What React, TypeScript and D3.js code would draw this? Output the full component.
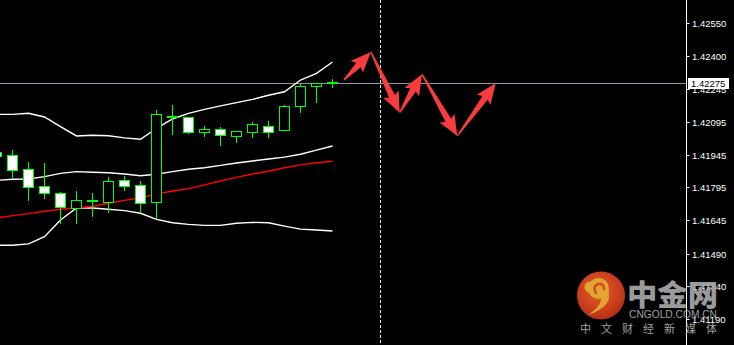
import React from "react";
import * as d3 from "d3";

const W = 734;
const H = 345;

// bar indices: -1 .. 20
const barIndex = d3.range(-1, 21);
const opens = [1.41955, 1.41943, 1.41879, 1.41801, 1.41769, 1.41701, 1.41733, 1.41729, 1.41827, 1.41806, 1.41726, 1.42121, 1.42117, 1.42051, 1.42063, 1.42032, 1.42051, 1.42075, 1.4206, 1.42167, 1.42259, 1.42277];
const highs = [1.41955, 1.41971, 1.41916, 1.41911, 1.41778, 1.41783, 1.41773, 1.41847, 1.41852, 1.41829, 1.42155, 1.42178, 1.4212, 1.4208, 1.42075, 1.42057, 1.421, 1.42104, 1.42178, 1.42276, 1.42279, 1.42297];
const lows = [1.41941, 1.41842, 1.41737, 1.41746, 1.41632, 1.41632, 1.41665, 1.41683, 1.41783, 1.41686, 1.41653, 1.42042, 1.42043, 1.42032, 1.41989, 1.42005, 1.42024, 1.42028, 1.4206, 1.42142, 1.42186, 1.42257];
const closes = [1.41941, 1.41875, 1.41798, 1.41767, 1.41706, 1.41737, 1.41735, 1.41824, 1.41802, 1.41724, 1.4213, 1.42119, 1.42051, 1.42063, 1.42034, 1.42054, 1.42085, 1.42051, 1.42167, 1.42261, 1.42273, 1.42275];

const bandUpper = [1.4213, 1.4213, 1.42135, 1.42118, 1.42074, 1.42031, 1.42034, 1.42032, 1.42022, 1.42016, 1.42066, 1.42109, 1.42135, 1.42153, 1.42169, 1.42184, 1.42199, 1.42218, 1.42234, 1.42288, 1.42319, 1.42371];
const bandMiddle = [1.41827, 1.41832, 1.41833, 1.41844, 1.41859, 1.41867, 1.41864, 1.41862, 1.41856, 1.41848, 1.41855, 1.41867, 1.41878, 1.41885, 1.41896, 1.41907, 1.41916, 1.41925, 1.41934, 1.41947, 1.41966, 1.41985];
const bandLower = [1.41529, 1.41529, 1.41535, 1.41568, 1.41645, 1.417, 1.417, 1.41694, 1.41688, 1.41676, 1.41648, 1.41632, 1.41625, 1.4162, 1.4162, 1.4163, 1.41634, 1.41632, 1.41617, 1.41603, 1.41599, 1.41594];
const movingAvg = [1.41654, 1.41665, 1.41674, 1.41685, 1.41694, 1.417, 1.41708, 1.41722, 1.41735, 1.41747, 1.41764, 1.41778, 1.41789, 1.41806, 1.41824, 1.41841, 1.41856, 1.41869, 1.41885, 1.41898, 1.41908, 1.41915];

const tickLabels = ["1.42550", "1.42400", "1.42245", "1.42095", "1.41945", "1.41795", "1.41645", "1.41490", "1.41340", "1.41190"];
const currentPrice = 1.42275;
const separatorBar = 23;

// forecast arrow path: [bar position, price]
const arrowBars = [20.72, 22.4, 24.2, 25.6, 27.8, 30.2];
const arrowPrices = [1.42288, 1.42417, 1.42138, 1.42314, 1.42031, 1.42273];

const x = d3.scaleLinear().domain([0, 20]).range([12.5, 332.5]);
const y = d3.scaleLinear().domain([1.4119, 1.4255]).range([319, 23]);

const snap = (v: number) => Math.round(v) + 0.5;

function arrowPath(x0: number, y0: number, x1: number, y1: number) {
  const dx = x1 - x0, dy = y1 - y0;
  const L = Math.hypot(dx, dy);
  const ux = dx / L, uy = dy / L;
  const nx = -uy, ny = ux;
  const headLen = 18, headW = 8.5, shaftW = 3.2, tailW = 0.7;
  const bx = x1 - ux * headLen, by = y1 - uy * headLen;
  const pts: [number, number][] = [
    [x0 + nx * tailW, y0 + ny * tailW],
    [bx + nx * shaftW, by + ny * shaftW],
    [bx + nx * headW - ux * 2.5, by + ny * headW - uy * 2.5],
    [x1, y1],
    [bx - nx * headW - ux * 2.5, by - ny * headW - uy * 2.5],
    [bx - nx * shaftW, by - ny * shaftW],
    [x0 - nx * tailW, y0 - ny * tailW],
  ];
  return "M" + pts.map((p) => p[0].toFixed(2) + "," + p[1].toFixed(2)).join("L") + "Z";
}

export default function App() {
  const lineGen = (vals: number[]) =>
    d3
      .line<number>()
      .x((_, i) => x(barIndex[i]))
      .y((v) => y(v))(vals) || "";

  const priceY = snap(y(currentPrice));
  const axisX = 686.5;
  const sepX = snap(x(separatorBar));

  const arrows = [];
  for (let i = 0; i < arrowBars.length - 1; i++) {
    arrows.push(
      arrowPath(x(arrowBars[i]), y(arrowPrices[i]), x(arrowBars[i + 1]), y(arrowPrices[i + 1]))
    );
  }

  return (
    <svg
      width={W}
      height={H}
      style={{ position: "absolute", left: 0, top: 0, background: "#000" }}
      xmlns="http://www.w3.org/2000/svg"
    >
      <defs>
        <radialGradient id="logoGrad" cx="45%" cy="40%" r="60%">
          <stop offset="0%" stopColor="#f26a2a" />
          <stop offset="70%" stopColor="#dc4420" />
          <stop offset="100%" stopColor="#c23418" />
        </radialGradient>
        <clipPath id="plotClip">
          <rect x={0} y={0} width={axisX} height={H} />
        </clipPath>
      </defs>
      <rect x={0} y={0} width={W} height={H} fill="#000" />

      <g clipPath="url(#plotClip)">
        {/* current price line */}
        <line x1={0} x2={axisX} y1={priceY} y2={priceY} stroke="#8a96a4" strokeWidth={1} />
        {/* separator dashed line */}
        <line x1={sepX} x2={sepX} y1={0} y2={H} stroke="#fff" strokeWidth={1} strokeDasharray="3,2" />
        {/* bands */}
        <path d={lineGen(bandUpper)} fill="none" stroke="#fff" strokeWidth={1.4} />
        <path d={lineGen(bandMiddle)} fill="none" stroke="#fff" strokeWidth={1.4} />
        <path d={lineGen(bandLower)} fill="none" stroke="#fff" strokeWidth={1.4} />
        <path d={lineGen(movingAvg)} fill="none" stroke="#ff0000" strokeWidth={1.4} />

        {/* candles */}
        {barIndex.map((b, i) => {
          const cx = x(b);
          const o = opens[i], c = closes[i];
          const bull = c >= o;
          const yTop = snap(y(Math.max(o, c)));
          let yBot = snap(y(Math.min(o, c)));
          if (yBot - yTop < 1) yBot = yTop + 1;
          return (
            <g key={b} shapeRendering="crispEdges">
              <line x1={cx} x2={cx} y1={snap(y(highs[i]))} y2={snap(y(lows[i]))} stroke="#00ff00" strokeWidth={1} />
              <rect
                x={cx - 5}
                y={yTop}
                width={10}
                height={yBot - yTop}
                fill={bull ? "#000" : "#fff"}
                stroke="#00ff00"
                strokeWidth={1}
              />
            </g>
          );
        })}

        {/* forecast arrows */}
        {arrows.map((d, i) => (
          <path key={i} d={d} fill="#f83c3c" />
        ))}
      </g>

      {/* right price axis */}
      <line x1={axisX} x2={axisX} y1={0} y2={H} stroke="#fff" strokeWidth={1} />
      {tickLabels.map((t) => {
        const ty = snap(y(+t));
        return (
          <g key={t}>
            <line x1={axisX} x2={axisX + 3} y1={ty} y2={ty} stroke="#fff" strokeWidth={1} />
            <text
              x={692}
              y={ty + 3.5}
              fill="#fff"
              fontFamily="'Liberation Sans', Arial, sans-serif"
              fontSize={9.5}
            >
              {t}
            </text>
          </g>
        );
      })}
      <rect x={688} y={priceY - 5.5} width={41} height={11} fill="#fff" />
      <text
        x={691}
        y={priceY + 3.5}
        fill="#000"
        fontFamily="'Liberation Sans', Arial, sans-serif"
        fontSize={9.5}
      >
        {currentPrice.toFixed(5)}
      </text>

      {/* watermark logo */}
      <g opacity={0.92}>
        <circle cx={601} cy={295.5} r={24} fill="url(#logoGrad)" />
        <circle cx={598.5} cy={288.5} r={10.5} fill="#f6b436" />
        <circle cx={590} cy={287} r={5.5} fill="#f6b436" />
        <path d="M596,293 Q592,287 598,284 Q604,283 604,289" fill="none" stroke="#e0561f" strokeWidth={2.6} strokeLinecap="round" />
        <path d="M608,290 Q614,306 588,315 Q603,305 601,296 Z" fill="#f6b436" />
        <text
          x={627}
          y={306}
          fill="#a8a8a8"
          fontFamily="'Noto Sans CJK SC', sans-serif"
          fontWeight={900}
          fontSize={29}
          textLength={91}
          lengthAdjust="spacingAndGlyphs"
        >
          中金网
        </text>
        <text
          x={629}
          y={318}
          fill="#b0b0b0"
          fontFamily="'Liberation Sans', Arial, sans-serif"
          fontSize={10}
          textLength={88}
          lengthAdjust="spacingAndGlyphs"
        >
          CNGOLD.COM.CN
        </text>
        <text
          x={580}
          y={332.5}
          fill="#b0b0b0"
          fontFamily="'Noto Sans CJK SC', sans-serif"
          fontSize={11}
          textLength={137}
          lengthAdjust="spacing"
        >
          中文财经新媒体
        </text>
      </g>
    </svg>
  );
}
